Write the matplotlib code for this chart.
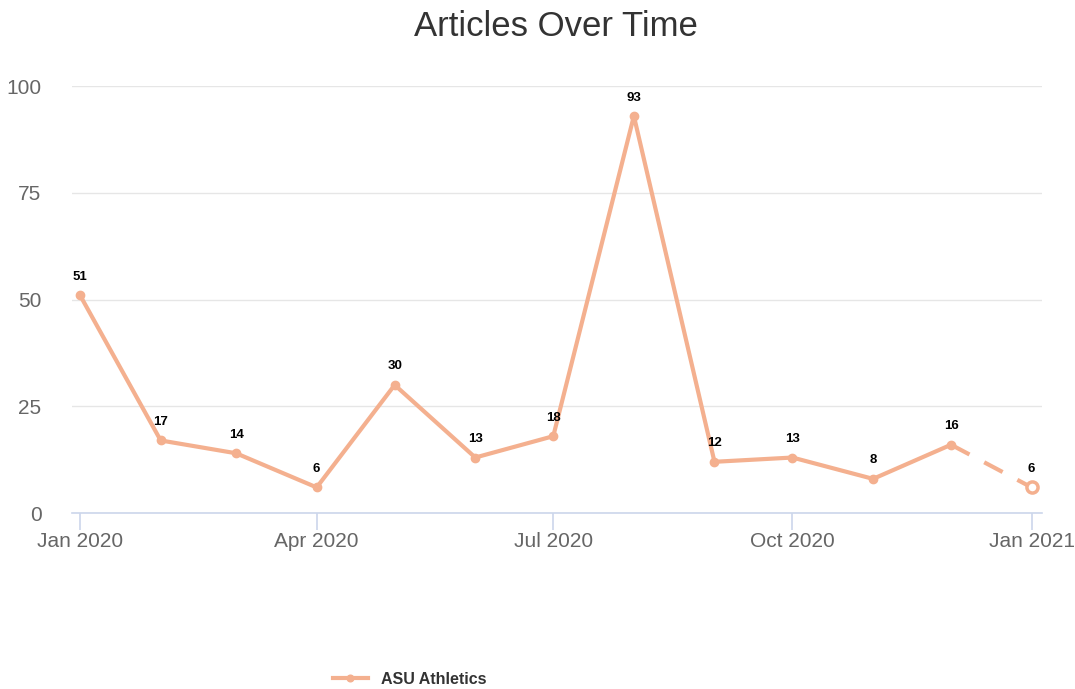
import matplotlib
matplotlib.use("Agg")
import matplotlib.pyplot as plt
import matplotlib.dates as mdates
from datetime import date

plt.rcParams['font.family'] = ['Liberation Sans', 'DejaVu Sans']

months = [date(2020, m, 1) for m in range(1, 13)] + [date(2021, 1, 1)]
articles = [51, 17, 14, 6, 30, 13, 18, 93, 12, 13, 8, 16, 6]
series_name = "ASU Athletics"
tick_dates = [date(2020, 1, 1), date(2020, 4, 1), date(2020, 7, 1), date(2020, 10, 1), date(2021, 1, 1)]
tick_labels = ["Jan 2020", "Apr 2020", "Jul 2020", "Oct 2020", "Jan 2021"]

color = "#f4b08f"

fig = plt.figure(figsize=(10.75, 6.89), dpi=100)
ax = fig.add_axes([0.067, 0.2554, 0.902, 0.6196])

# solid part, then the last (incomplete) month dashed with a hollow point
ax.plot(months[:-1], articles[:-1], color=color, linewidth=3, marker="o", markersize=6, zorder=3)
ax.plot(months[-2:], articles[-2:], color=color, linewidth=3, linestyle=(0, (5, 4)), zorder=3)
ax.plot(months[-1:], articles[-1:], linestyle="none", marker="o", markersize=8,
        markerfacecolor="white", markeredgecolor=color, markeredgewidth=2.5, zorder=4)

for d, v in zip(months, articles):
    ax.annotate(str(v), (d, v), xytext=(0, 9), textcoords="offset points",
                ha="center", va="bottom", fontsize=9.5, fontweight="bold", color="black")

ax.set_ylim(0, 100)
ax.set_yticks([0, 25, 50, 75, 100])
x0 = mdates.date2num(months[0])
x1 = mdates.date2num(months[-1])
ax.set_xlim(x0 - 3.1, x1 + 3.85)
ax.set_xticks(tick_dates)
ax.set_xticklabels(tick_labels)

ax.grid(axis="y", color="#e6e6e6", linewidth=1)
ax.set_axisbelow(True)
for s in ["top", "right", "left"]:
    ax.spines[s].set_visible(False)
ax.spines["bottom"].set_color("#ccd6eb")
ax.spines["bottom"].set_linewidth(1.2)
ax.tick_params(axis="x", colors="#ccd6eb", length=12, width=1.2, labelcolor="#666666", labelsize=15, pad=2)
ax.tick_params(axis="y", length=0, labelcolor="#666666", labelsize=15, pad=22)

fig.suptitle("Articles Over Time", x=0.517, y=0.985, fontsize=25, color="#333333")

leg = fig.legend([ax.lines[0]], [series_name], loc="lower center", bbox_to_anchor=(0.381, -0.018),
                 frameon=False, prop={"weight": "bold", "size": 11.5}, handlelength=2.2, markerscale=0.8)
for t in leg.get_texts():
    t.set_color("#333333")

fig.savefig("out.png", dpi=100)
